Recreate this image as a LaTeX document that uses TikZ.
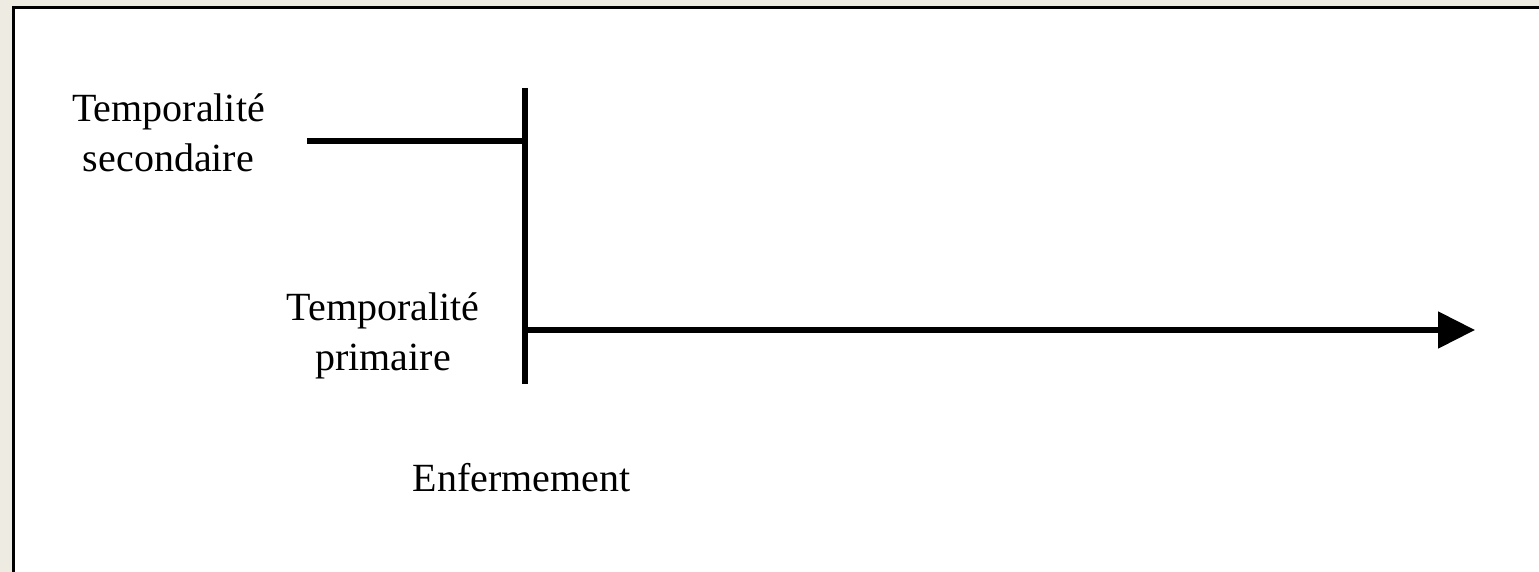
\documentclass[tikz,border=0pt]{standalone}
\usepackage{fontspec}
\setmainfont{Liberation Serif}
\usetikzlibrary{arrows.meta}
\definecolor{pagebeige}{RGB}{238,235,226}
\tikzset{
  axisline/.style={line width=2.6pt, line cap=butt},
  label/.style={inner sep=0pt, align=center, font=\fontsize{20pt}{25pt}\selectfont},
}
\begin{document}
\begin{tikzpicture}[x=0.5pt, y=-0.5pt]
  \useasboundingbox (0,0) rectangle (1539,572);
  % page and frame
  \fill[pagebeige] (0,0) rectangle (1539,572);
  \fill[white] (12,6) rectangle (1539,572);
  \draw[line width=1.5pt] (13.5,572) -- (13.5,7.5) -- (1539,7.5);

  % axis points
  \coordinate (vtop) at (525,88);
  \coordinate (vbot) at (525,384);
  \coordinate (secstart) at (307,141);
  \coordinate (secend) at (525,141);
  \coordinate (primstart) at (525,330);
  \coordinate (primend) at (1475,330);

  % axes
  \draw[axisline] (vtop) -- (vbot);
  \draw[axisline] (secstart) -- (secend);
  \draw[axisline, -{Triangle[length=18.5pt, width=18pt]}] (primstart) -- (primend);

  % labels
  \node[label, anchor=north] (seclabel) at (168.5,93.5) {Temporalité\\secondaire};
  \node[label, anchor=north] (primlabel) at (383,292.5) {Temporalité\\primaire};
  \node[label, anchor=base] (enf) at (521.5,492) {Enfermement};
\end{tikzpicture}
\end{document}
